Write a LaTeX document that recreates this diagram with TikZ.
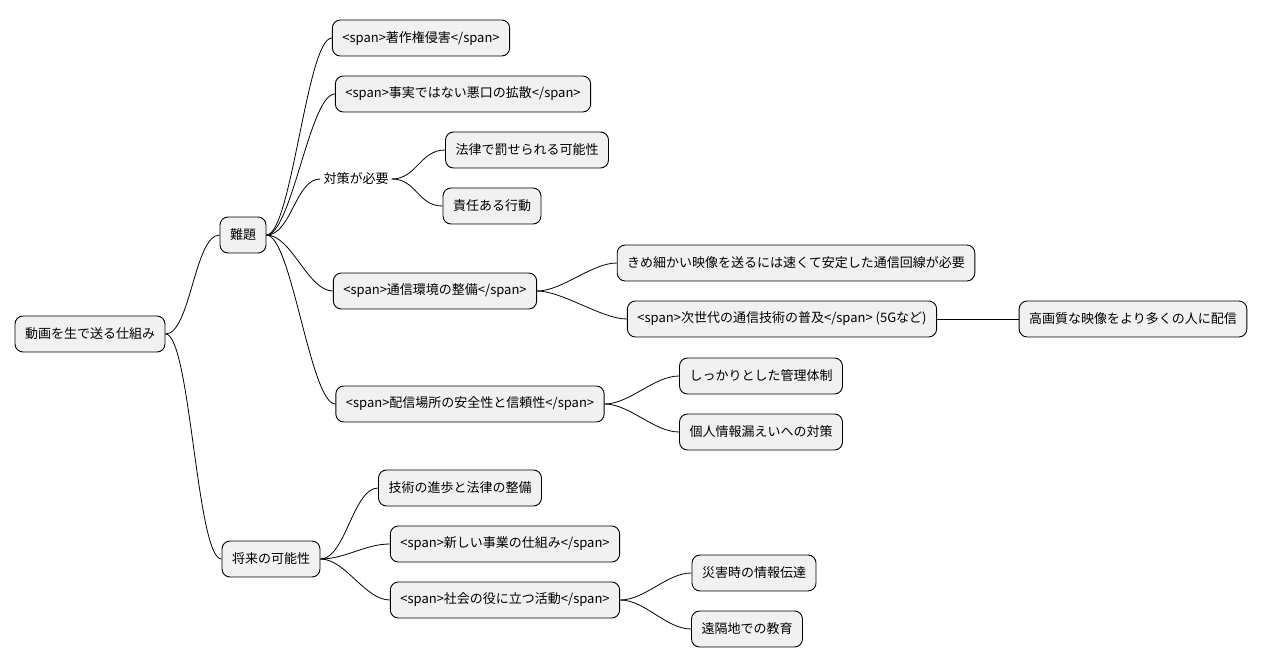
\documentclass[tikz,border=0pt]{standalone}
\usepackage{fontspec}
\setmainfont{Noto Sans CJK JP}
\begin{document}
\begin{tikzpicture}[x=1pt,y=-1pt,
  box/.style={draw=black,line width=0.9pt,fill={rgb,255:red,241;green,241;blue,241},rounded corners=8pt,minimum height=36pt,inner xsep=10pt,inner ysep=0pt,font=\fontsize{13}{15}\selectfont},
  plain/.style={inner xsep=3pt,font=\fontsize{13}{15}\selectfont},
  lk/.style={line width=0.8pt}]
\useasboundingbox (0,0) rectangle (1265,668);
\node[box] (root) at (90,334) {動画を生で送る仕組み};
\node[box] (nan) at (243,235) {難題};
\node[box] (sho) at (271,559) {将来の可能性};
\node[box] (a1) at (421,38) {<span>著作権侵害</span>};
\node[box] (a2) at (463,94) {<span>事実ではない悪口の拡散</span>};
\node[plain] (a3) at (356,179) {対策が必要};
\node[box] (a31) at (527,150) {法律で罰せられる可能性};
\node[box] (a32) at (492,206) {責任ある行動};
\node[box] (a4) at (435,291) {<span>通信環境の整備</span>};
\node[box] (a41) at (796,263) {きめ細かい映像を送るには速くて安定した通信回線が必要};
\node[box] (a42) at (782,319) {<span>次世代の通信技術の普及</span> (5Gなど)};
\node[box] (a421) at (1133,319) {高画質な映像をより多くの人に配信};
\node[box] (a5) at (470,404) {<span>配信場所の安全性と信頼性</span>};
\node[box] (a51) at (761,376) {しっかりとした管理体制};
\node[box] (a52) at (761,432) {個人情報漏えいへの対策};
\node[box] (b1) at (460,488) {技術の進歩と法律の整備};
\node[box] (b2) at (505,544) {<span>新しい事業の仕組み</span>};
\node[box] (b3) at (505,600) {<span>社会の役に立つ活動</span>};
\node[box] (b31) at (754,573) {災害時の情報伝達};
\node[box] (b32) at (747,629) {遠隔地での教育};
\foreach \p/\c in {root/nan,root/sho,nan/a1,nan/a2,nan/a3,nan/a4,nan/a5,a3/a31,a3/a32,a4/a41,a4/a42,a5/a51,a5/a52,sho/b1,sho/b2,sho/b3,b3/b31,b3/b32}
  \draw[lk] (\p.east) .. controls +(25,0) and +(-25,0) .. (\c.west);
\draw[lk] (a42.east) -- (a421.west);
\end{tikzpicture}
\end{document}
